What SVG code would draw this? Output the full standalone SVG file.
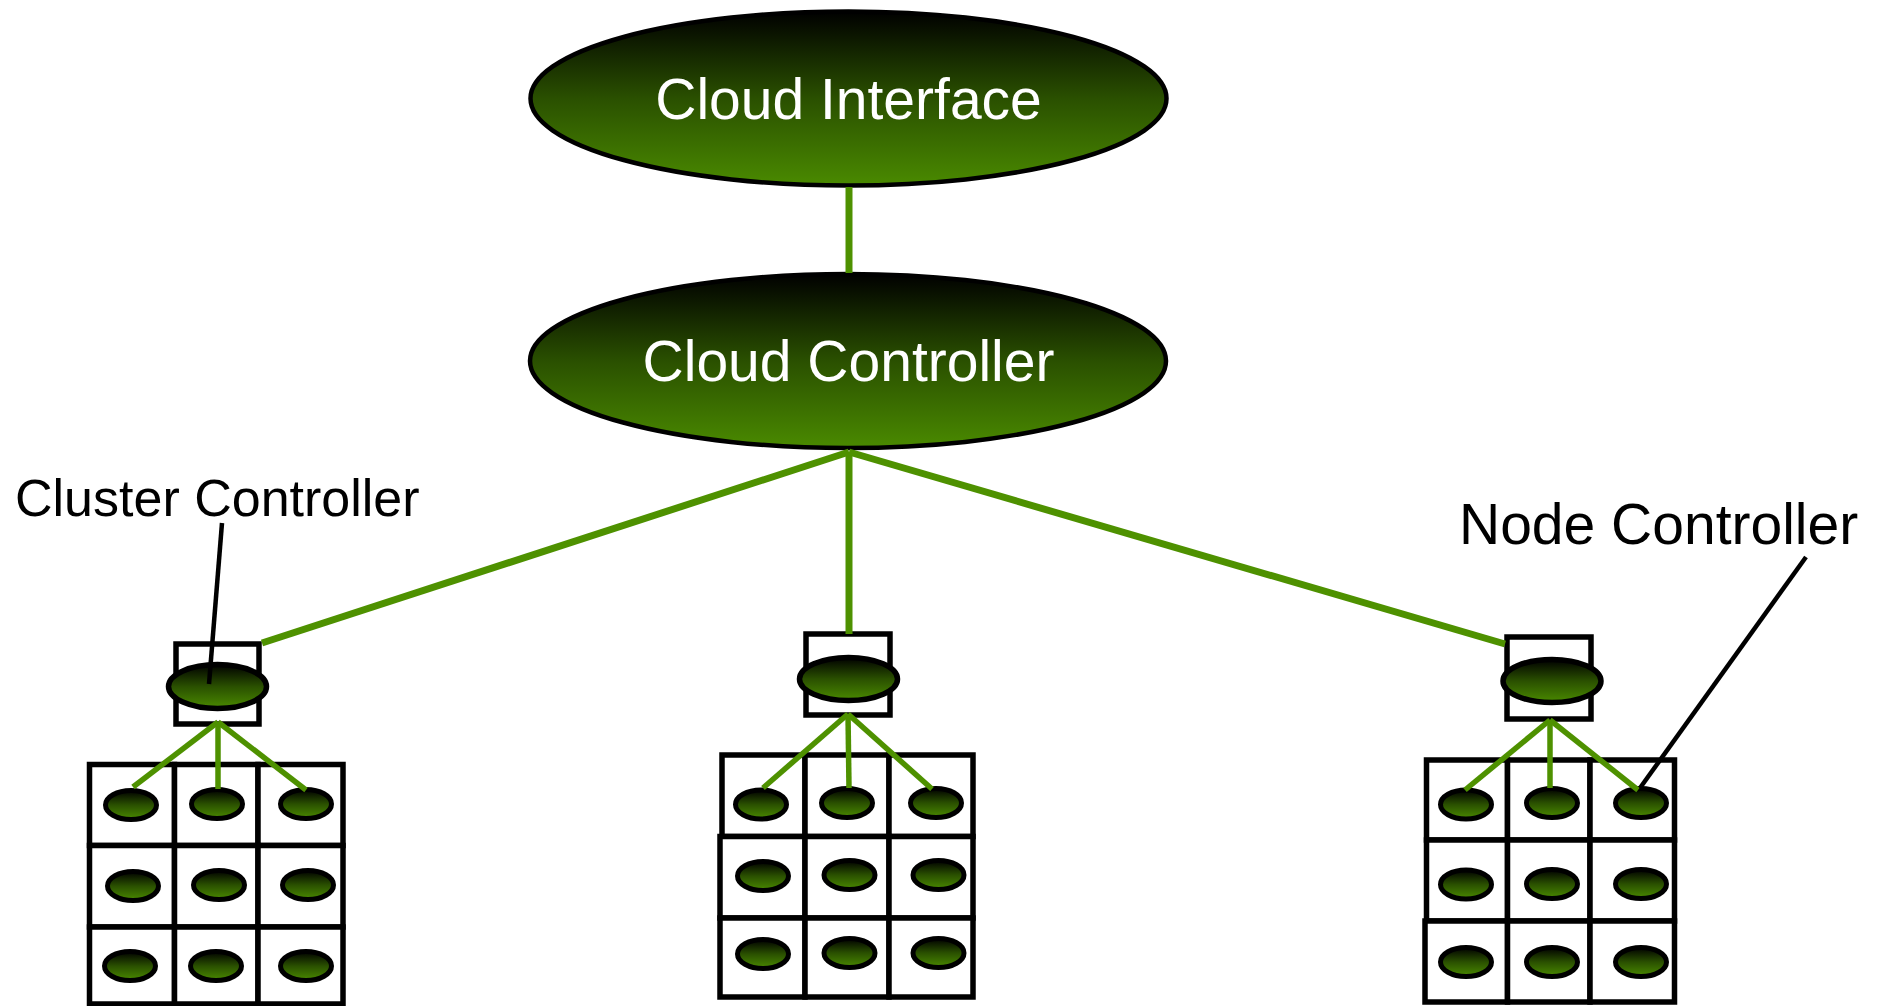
<svg xmlns="http://www.w3.org/2000/svg" width="1883" height="1006" viewBox="0 0 1883 1006">
  <defs>
    <linearGradient id="greenShade" x1="0" y1="0" x2="0" y2="1">
      <stop offset="0" stop-color="#000000"/>
      <stop offset="0.5" stop-color="#2a5000"/>
      <stop offset="1" stop-color="#4a8a00"/>
    </linearGradient>
    <style>
      .big { fill: url(#greenShade); stroke: #000; stroke-width: 4.5; }
      .ctl { fill: url(#greenShade); stroke: #000; stroke-width: 5.5; }
      .vm { fill: url(#greenShade); stroke: #000; stroke-width: 5; }
      .box { fill: #fff; stroke: #000; stroke-width: 5.5; }
      .cell { fill: #fff; stroke: #000; stroke-width: 5.5; }
      .title { font-family: "Liberation Sans", Arial, sans-serif; font-size: 57px; fill: #fff; text-anchor: middle; }
      .label { font-family: "Liberation Sans", Arial, sans-serif; fill: #000; }
      .link { stroke: #4e9100; stroke-width: 7; fill: none; }
      .fan { stroke: #4e9100; stroke-width: 5.5; fill: none; }
      .leader { stroke: #000; stroke-width: 4.5; fill: none; }
    </style>
  </defs>
  <rect width="1883" height="1006" fill="#fff"/>

  <!-- top tier -->
  <g id="cloud-interface">
    <ellipse class="big" cx="848.5" cy="98.5" rx="318" ry="87"/>
    <text class="title" x="848.5" y="119">Cloud Interface</text>
  </g>
  <g id="cloud-controller">
    <ellipse class="big" cx="848" cy="361" rx="318" ry="87"/>
    <text class="title" x="848.5" y="381">Cloud Controller</text>
  </g>

  <!-- cluster controllers -->
  <g id="cluster-left">
    <rect class="box" x="176" y="644" width="83" height="80"/>
    <ellipse class="ctl" cx="217.5" cy="686.5" rx="49" ry="22"/>
  </g>
  <g id="cluster-middle">
    <rect class="box" x="806" y="634" width="84" height="81"/>
    <ellipse class="ctl" cx="848.5" cy="679" rx="49" ry="21.5"/>
  </g>
  <g id="cluster-right">
    <rect class="box" x="1507" y="637" width="84" height="82"/>
    <ellipse class="ctl" cx="1552" cy="681" rx="49" ry="21.5"/>
  </g>

  <!-- node grid, left cluster -->
  <g id="nodes-left">
    <rect class="cell" x="89.5" y="764.5" width="85" height="81"/>
    <rect class="cell" x="174.5" y="764.5" width="83.5" height="81"/>
    <rect class="cell" x="258" y="764.5" width="85" height="81"/>
    <rect class="cell" x="89.5" y="845.5" width="85" height="81.5"/>
    <rect class="cell" x="174.5" y="845.5" width="83.5" height="81.5"/>
    <rect class="cell" x="258" y="845.5" width="85" height="81.5"/>
    <rect class="cell" x="89.5" y="927" width="85" height="77"/>
    <rect class="cell" x="174.5" y="927" width="83.5" height="77"/>
    <rect class="cell" x="258" y="927" width="85" height="77"/>
    <ellipse class="vm" cx="131" cy="805" rx="25.5" ry="14.5"/>
    <ellipse class="vm" cx="217" cy="804" rx="25.5" ry="14.5"/>
    <ellipse class="vm" cx="306" cy="804" rx="25.5" ry="14.5"/>
    <ellipse class="vm" cx="133" cy="886" rx="25.5" ry="14.5"/>
    <ellipse class="vm" cx="219" cy="885" rx="25.5" ry="14.5"/>
    <ellipse class="vm" cx="308" cy="885" rx="25.5" ry="14.5"/>
    <ellipse class="vm" cx="130" cy="966" rx="25.5" ry="14.5"/>
    <ellipse class="vm" cx="216" cy="966" rx="25.5" ry="14.5"/>
    <ellipse class="vm" cx="306" cy="966" rx="25.5" ry="14.5"/>
  </g>

  <!-- node grid, middle cluster -->
  <g id="nodes-middle">
    <rect class="cell" x="722" y="755" width="83" height="81.5"/>
    <rect class="cell" x="805" y="755" width="84" height="81.5"/>
    <rect class="cell" x="889" y="755" width="84" height="81.5"/>
    <rect class="cell" x="720" y="836.5" width="85" height="81.5"/>
    <rect class="cell" x="805" y="836.5" width="84" height="81.5"/>
    <rect class="cell" x="889" y="836.5" width="84" height="81.5"/>
    <rect class="cell" x="720" y="918" width="85" height="79"/>
    <rect class="cell" x="805" y="918" width="84" height="79"/>
    <rect class="cell" x="889" y="918" width="84" height="79"/>
    <ellipse class="vm" cx="761" cy="804.5" rx="25.5" ry="14.5"/>
    <ellipse class="vm" cx="847" cy="803" rx="25.5" ry="14.5"/>
    <ellipse class="vm" cx="936" cy="803" rx="25.5" ry="14.5"/>
    <ellipse class="vm" cx="763" cy="876" rx="25.5" ry="14.5"/>
    <ellipse class="vm" cx="849.5" cy="875" rx="25.5" ry="14.5"/>
    <ellipse class="vm" cx="938.5" cy="875" rx="25.5" ry="14.5"/>
    <ellipse class="vm" cx="763" cy="954" rx="25.5" ry="14.5"/>
    <ellipse class="vm" cx="849.5" cy="953" rx="25.5" ry="14.5"/>
    <ellipse class="vm" cx="938.5" cy="953" rx="25.5" ry="14.5"/>
  </g>

  <!-- node grid, right cluster -->
  <g id="nodes-right">
    <rect class="cell" x="1426.5" y="760" width="81" height="80"/>
    <rect class="cell" x="1507.5" y="760" width="82.5" height="80"/>
    <rect class="cell" x="1590" y="760" width="84.5" height="80"/>
    <rect class="cell" x="1426.5" y="840" width="81" height="81"/>
    <rect class="cell" x="1507.5" y="840" width="82.5" height="81"/>
    <rect class="cell" x="1590" y="840" width="84.5" height="81"/>
    <rect class="cell" x="1425" y="921" width="82.5" height="81"/>
    <rect class="cell" x="1507.5" y="921" width="82.5" height="81"/>
    <rect class="cell" x="1590" y="921" width="84.5" height="81"/>
    <ellipse class="vm" cx="1466" cy="804.5" rx="25.5" ry="14.5"/>
    <ellipse class="vm" cx="1552" cy="803" rx="25.5" ry="14.5"/>
    <ellipse class="vm" cx="1641" cy="803" rx="25.5" ry="14.5"/>
    <ellipse class="vm" cx="1466" cy="884.5" rx="25.5" ry="14.5"/>
    <ellipse class="vm" cx="1552" cy="884" rx="25.5" ry="14.5"/>
    <ellipse class="vm" cx="1641" cy="884" rx="25.5" ry="14.5"/>
    <ellipse class="vm" cx="1466" cy="962" rx="25.5" ry="14.5"/>
    <ellipse class="vm" cx="1552" cy="962" rx="25.5" ry="14.5"/>
    <ellipse class="vm" cx="1641" cy="962" rx="25.5" ry="14.5"/>
  </g>

  <!-- links between tiers -->
  <g id="connectors">
    <line class="link" x1="849" y1="187" x2="849" y2="273"/>
    <line class="link" x1="849" y1="452" x2="262" y2="643"/>
    <line class="link" x1="849" y1="452" x2="849" y2="634"/>
    <line class="link" x1="849" y1="452" x2="1505" y2="644"/>
    <line class="fan" x1="218" y1="722" x2="133" y2="787"/>
    <line class="fan" x1="218" y1="722" x2="218" y2="789"/>
    <line class="fan" x1="218" y1="722" x2="306" y2="790"/>
    <line class="fan" x1="848" y1="714" x2="763" y2="788"/>
    <line class="fan" x1="848" y1="714" x2="849" y2="788"/>
    <line class="fan" x1="848" y1="714" x2="932" y2="789"/>
    <line class="fan" x1="1550" y1="720" x2="1465" y2="790"/>
    <line class="fan" x1="1550" y1="720" x2="1550" y2="788"/>
    <line class="fan" x1="1550" y1="720" x2="1638" y2="790"/>
  </g>

  <!-- callout labels -->
  <g id="label-cluster">
    <text class="label" x="15" y="516" font-size="52">Cluster Controller</text>
    <line class="leader" x1="222" y1="523" x2="209" y2="684"/>
  </g>
  <g id="label-node">
    <text class="label" x="1459" y="544" font-size="57">Node Controller</text>
    <line class="leader" x1="1806" y1="557" x2="1640" y2="788"/>
  </g>
</svg>
